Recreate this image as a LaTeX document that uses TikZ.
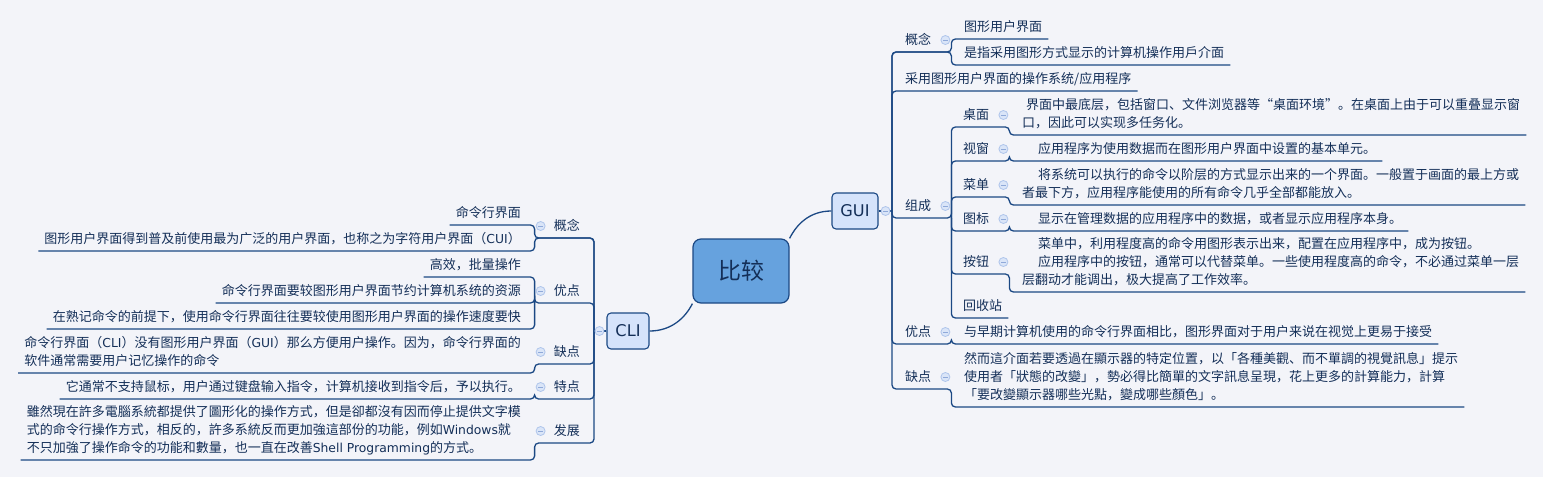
\documentclass[tikz,border=0pt]{standalone}
\usepackage{fontspec}
\setmainfont{Noto Sans CJK SC}
\newfontfamily\latin{DejaVu Sans}[Scale=0.95]
\usetikzlibrary{calc}
\definecolor{paper}{HTML}{F3F4F9}
\definecolor{ink}{HTML}{142F58}
\definecolor{wire}{HTML}{1B4884}
\definecolor{rootfill}{HTML}{66A2DE}
\definecolor{mainfill}{HTML}{D5E3FB}
\definecolor{foldfill}{HTML}{DAE5F8}
\definecolor{foldline}{HTML}{AFC5EB}
\definecolor{foldminus}{HTML}{8FA9D9}

\begin{document}
\begin{tikzpicture}[
    x=1pt, y=-1pt,
    topic/.style={font=\fontsize{13}{18}\selectfont, text=ink, inner xsep=6pt, inner ysep=1.8pt, align=left, execute at end node=\strut},
    rtopic/.style={topic, anchor=south west},
    ltopic/.style={topic, anchor=south east},
    rlabel/.style={rtopic, text width=40pt},
    llabel/.style={ltopic, text width=39pt, align=right},
    rootbox/.style={draw=wire, line width=1.2pt, fill=rootfill, rounded corners=8pt, minimum width=96pt, minimum height=64pt, font=\fontsize{23}{28}\selectfont, text=ink},
    mainbox/.style={draw=wire, line width=1.1pt, fill=mainfill, rounded corners=4pt, minimum height=36pt, inner xsep=0pt, font=\latin\fontsize{17}{20}\selectfont, text=ink},
    link/.style={draw=wire, line width=1.3pt, rounded corners=4pt},
    fold/.style={circle, draw=foldline, fill=foldfill, line width=0.8pt, minimum size=9pt, inner sep=0pt,
        path picture={\draw[foldminus, line width=0.9pt] ([xshift=-2.2pt]path picture bounding box.center) -- ([xshift=2.2pt]path picture bounding box.center);}}
]
\fill[paper] (0,0) rectangle (1543,477);

\node[rootbox] (compare) at (741,271) {比较};
\node[mainbox, minimum width=46pt] (gui) at (855,211) {GUI};
\node[mainbox, minimum width=42pt] (cli) at (628,331) {CLI};
\coordinate (gspine) at (892,211);
\coordinate (cspine) at (594,331);

\node[rlabel] (gconcept) at (899,52) {概念};
\node[rtopic] (gdef1) at (958,39) {图形用户界面};
\node[rtopic] (gdef2) at (958,65) {是指采用图形方式显示的计算机操作用戶介面};
\node[rtopic] (gsystems) at (899,91) {采用图形用户界面的操作系统/应用程序};
\node[rlabel] (gparts) at (899,218) {组成};
\node[rlabel] (desktop) at (957,127) {桌面};
\node[rtopic] (desktopT) at (1016,135) {\hspace*{4pt}界面中最底层，包括窗口、文件浏览器等“桌面环境”。在桌面上由于可以重叠显示窗\\口，因此可以实现多任务化。};
\node[rlabel] (window) at (957,161) {视窗};
\node[rtopic] (windowT) at (1016,161) {\hspace*{16pt}应用程序为使用数据而在图形用户界面中设置的基本单元。};
\node[rlabel] (menu) at (957,197) {菜单};
\node[rtopic] (menuT) at (1016,205) {\hspace*{16pt}将系统可以执行的命令以阶层的方式显示出来的一个界面。一般置于画面的最上方或\\者最下方，应用程序能使用的所有命令几乎全部都能放入。};
\node[rlabel] (icon) at (957,231) {图标};
\node[rtopic] (iconT) at (1016,231) {\hspace*{16pt}显示在管理数据的应用程序中的数据，或者显示应用程序本身。};
\node[rlabel] (button) at (957,274) {按钮};
\node[rtopic] (buttonT) at (1016,292) {\hspace*{16pt}菜单中，利用程度高的命令用图形表示出来，配置在应用程序中，成为按钮。\\\hspace*{16pt}应用程序中的按钮，通常可以代替菜单。一些使用程度高的命令，不必通过菜单一层\\层翻动才能调出，极大提高了工作效率。};
\node[rtopic] (bin) at (957,318) {回收站};
\node[rlabel] (gpro) at (899,344) {优点};
\node[rtopic] (gproT) at (958,344) {与早期计算机使用的命令行界面相比，图形界面对于用户来说在视觉上更易于接受};
\node[rlabel] (gcon) at (899,389) {缺点};
\node[rtopic] (gconT) at (958,407) {然而這介面若要透過在顯示器的特定位置，以「各種美觀、而不單調的視覺訊息」提示\\使用者「狀態的改變」，勢必得比簡單的文字訊息呈現，花上更多的計算能力，計算\\「要改變顯示器哪些光點，變成哪些顏色」。};

\node[llabel] (cconcept) at (586,238) {概念};
\node[ltopic] (cdef1) at (527,225) {命令行界面};
\node[ltopic] (cdef2) at (527,251) {图形用户界面得到普及前使用最为广泛的用户界面，也称之为字符用户界面（{\latin CUI}）};
\node[llabel] (cpro) at (586,303) {优点};
\node[ltopic] (cpro1) at (527,277) {高效，批量操作};
\node[ltopic] (cpro2) at (527,303) {命令行界面要较图形用户界面节约计算机系统的资源};
\node[ltopic] (cpro3) at (527,329) {在熟记命令的前提下，使用命令行界面往往要较使用图形用户界面的操作速度要快};
\node[llabel] (ccon) at (586,364) {缺点};
\node[ltopic] (cconT) at (527,373) {命令行界面（{\latin CLI}）没有图形用户界面（{\latin GUI}）那么方便用户操作。因为，命令行界面的\\软件通常需要用户记忆操作的命令};
\node[llabel] (cfeat) at (586,399) {特点};
\node[ltopic] (cfeatT) at (527,399) {它通常不支持鼠标，用户通过键盘输入指令，计算机接收到指令后，予以执行。};
\node[llabel] (cdev) at (586,443) {发展};
\node[ltopic] (cdevT) at (527,460) {雖然現在許多電腦系統都提供了圖形化的操作方式，但是卻都沒有因而停止提供文字模\\式的命令行操作方式，相反的，許多系統反而更加強這部份的功能，例如{\latin Windows}就\\不只加強了操作命令的功能和數量，也一直在改善{\latin Shell Programming}的方式。};

\draw[link] (compare.north east) .. controls ($(compare.north east)+(7,-14)$) and ($(gui.west)+(-22,0)$) .. (gui.west);
\draw[link] (compare.south west) .. controls ($(compare.south west)+(-7,14)$) and ($(cli.east)+(22,0)$) .. (cli.east);
\draw[link] (gui.east) -- (gspine);
\draw[link] (cli.west) -- (cspine);

\draw[link] (gspine) |- (gconcept.south east) |- (gdef1.south east);
\draw[link] (gspine) |- (gconcept.south east) |- (gdef2.south east);
\draw[link] (gspine) |- (gsystems.south east);
\draw[link] (gspine) |- (gparts.south east) |- (desktop.south east) |- (desktopT.south east);
\draw[link] (gparts.south east) |- (window.south east) |- (windowT.south east);
\draw[link] (gparts.south east) |- (menu.south east) |- (menuT.south east);
\draw[link] (gparts.south east) |- (icon.south east) |- (iconT.south east);
\draw[link] (gparts.south east) |- (button.south east) |- (buttonT.south east);
\draw[link] (gparts.south east) |- (bin.south east);
\draw[link] (gspine) |- (gpro.south east) |- (gproT.south east);
\draw[link] (gspine) |- (gcon.south east) |- (gconT.south east);

\draw[link] (cspine) |- (cconcept.south west) |- (cdef1.south west);
\draw[link] (cspine) |- (cconcept.south west) |- (cdef2.south west);
\draw[link] (cspine) |- (cpro.south west) |- (cpro1.south west);
\draw[link] (cpro.south west) |- (cpro2.south west);
\draw[link] (cpro.south west) |- (cpro3.south west);
\draw[link] (cspine) |- (ccon.south west) |- (cconT.south west);
\draw[link] (cspine) |- (cfeat.south west) |- (cfeatT.south west);
\draw[link] (cspine) |- (cdev.south west) |- (cdevT.south west);

\node[fold] (fgui) at ([xshift=7pt]gui.east) {};
\node[fold] (fcli) at ([xshift=-7pt]cli.west) {};
\node[fold] (fgconcept) at ([xshift=-6pt,yshift=12pt]gconcept.south east) {};
\node[fold] (fgparts) at ([xshift=-6pt,yshift=12pt]gparts.south east) {};
\node[fold] (fdesktop) at ([xshift=-6pt,yshift=12pt]desktop.south east) {};
\node[fold] (fwindow) at ([xshift=-6pt,yshift=12pt]window.south east) {};
\node[fold] (fmenu) at ([xshift=-6pt,yshift=12pt]menu.south east) {};
\node[fold] (ficon) at ([xshift=-6pt,yshift=12pt]icon.south east) {};
\node[fold] (fbutton) at ([xshift=-6pt,yshift=12pt]button.south east) {};
\node[fold] (fgpro) at ([xshift=-6pt,yshift=12pt]gpro.south east) {};
\node[fold] (fgcon) at ([xshift=-6pt,yshift=12pt]gcon.south east) {};
\node[fold] (fcconcept) at ([xshift=6pt,yshift=12pt]cconcept.south west) {};
\node[fold] (fcpro) at ([xshift=6pt,yshift=12pt]cpro.south west) {};
\node[fold] (fccon) at ([xshift=6pt,yshift=12pt]ccon.south west) {};
\node[fold] (fcfeat) at ([xshift=6pt,yshift=12pt]cfeat.south west) {};
\node[fold] (fcdev) at ([xshift=6pt,yshift=12pt]cdev.south west) {};
\end{tikzpicture}
\end{document}
